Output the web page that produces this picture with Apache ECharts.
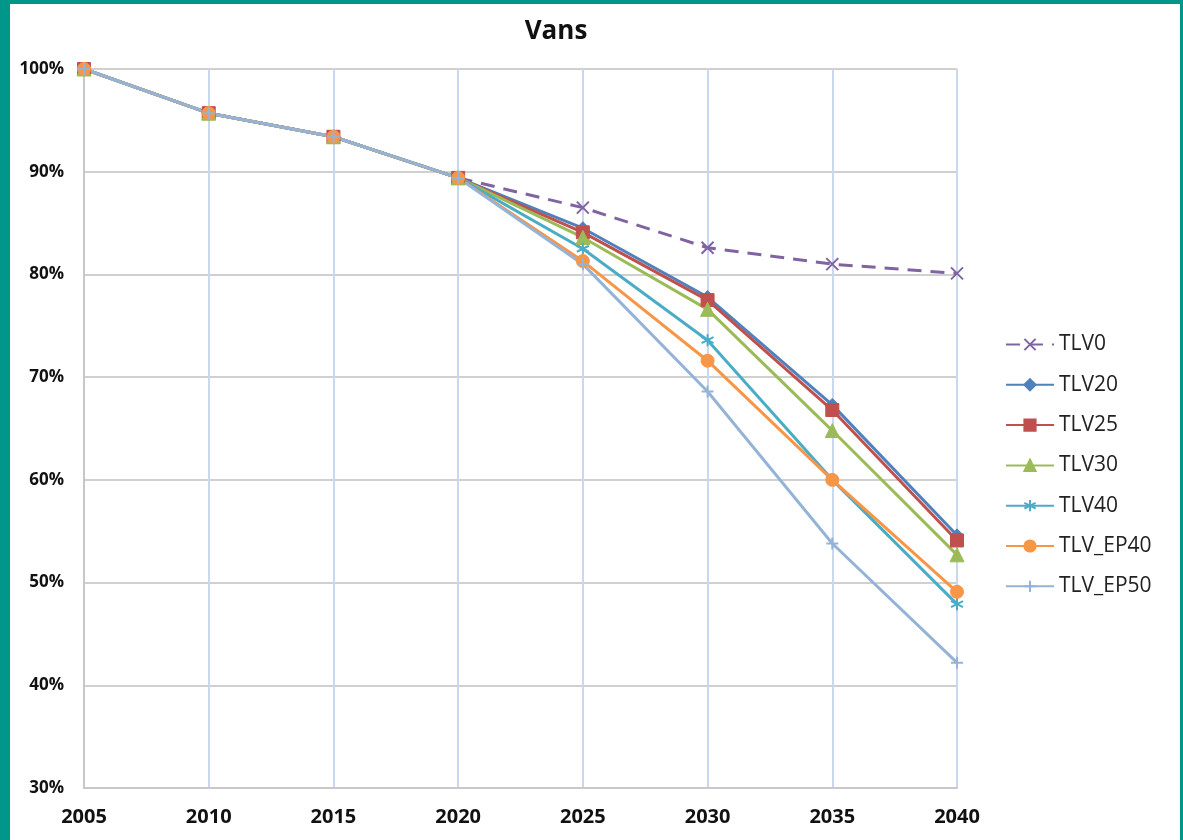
<!DOCTYPE html>
<html><head><meta charset="utf-8">
<script src="https://cdn.jsdelivr.net/npm/echarts@6/dist/echarts.min.js"></script>
<style>
html,body{margin:0;padding:0;background:#00968a;width:1183px;height:840px;overflow:hidden}
#c{position:absolute;left:10px;top:4px;width:1170px;height:836px;background:#fff}
</style></head>
<body><div id="c"></div>
<script>
const years = ['2005','2010','2015','2020','2025','2030','2035','2040'];
const TLV0     = [100, 95.7, 93.4, 89.4, 86.5, 82.6, 81.0, 80.1];
const TLV20    = [100, 95.7, 93.4, 89.4, 84.5, 77.8, 67.3, 54.6];
const TLV25    = [100, 95.7, 93.4, 89.4, 84.1, 77.5, 66.8, 54.1];
const TLV30    = [100, 95.7, 93.4, 89.4, 83.6, 76.6, 64.8, 52.7];
const TLV40    = [100, 95.7, 93.4, 89.4, 82.5, 73.6, 60.0, 47.9];
const TLV_EP40 = [100, 95.7, 93.4, 89.4, 81.3, 71.6, 60.0, 49.1];
const TLV_EP50 = [100, 95.7, 93.4, 89.4, 81.0, 68.6, 53.8, 42.2];
const yTicks = {min: 30, max: 100, step: 10};

const crossPath = 'path://M0,0L10,10M10,0L0,10';
const starPath = 'path://M5,0L5,10M0,2.5L10,7.5M10,2.5L0,7.5';
const plusPath = 'path://M5,0L5,10M0,5L10,5';

function S(name, data, color, symbol, size, extra) {
  return Object.assign({
    name, type: 'line', data, symbol, symbolSize: size,
    lineStyle: {color, width: 3},
    itemStyle: {color, borderColor: color, borderWidth: 1},
    emphasis: {disabled: true}, animation: false
  }, extra || {});
}
const purple = '#8064A2', blue = '#4F81BD', red = '#C0504D', green = '#9BBB59',
      teal = '#4BACC6', orange = '#F79646', lblue = '#95B3D7';

const series = [
  S('TLV0', TLV0, purple, crossPath, 12, {lineStyle: {color: purple, width: 3, type: [14, 9]},
    itemStyle: {color: 'none', borderColor: purple, borderWidth: 2}}),
  S('TLV20', TLV20, blue, 'diamond', 13),
  S('TLV25', TLV25, red, 'rect', 13),
  S('TLV30', TLV30, green, 'triangle', 14),
  S('TLV40', TLV40, teal, starPath, 12, {itemStyle: {color: 'none', borderColor: teal, borderWidth: 2}}),
  S('TLV_EP40', TLV_EP40, orange, 'circle', 13),
  S('TLV_EP50', TLV_EP50, lblue, plusPath, 12, {itemStyle: {color: 'none', borderColor: lblue, borderWidth: 2}})
];
const chart = echarts.init(document.getElementById('c'));
chart.setOption({
  animation: false,
  title: {text: 'Vans', left: 541, top: 10, textAlign: 'center',
    textStyle: {fontFamily: 'Open Sans', fontWeight: 'bold', fontSize: 26, color: '#111'}},
  grid: {left: 74, top: 65, right: 223, bottom: 52, containLabel: false},
  legend: {orient: 'vertical', left: 990, top: 325, itemWidth: 48, itemHeight: 14, itemGap: 19.3,
    textStyle: {fontFamily: 'Open Sans', fontSize: 21, color: '#222', lineHeight: 19.5},
    data: ['TLV0','TLV20','TLV25','TLV30','TLV40','TLV_EP40','TLV_EP50']},
  xAxis: {type: 'category', data: years, boundaryGap: false,
    axisLine: {lineStyle: {color: '#c8c8c8', width: 2}}, axisTick: {show: false},
    axisLabel: {margin: 19, fontFamily: 'Open Sans', fontWeight: 'bold', fontSize: 20, color: '#111'},
    splitLine: {show: true, lineStyle: {color: '#c9d7f0', width: 2}}},
  yAxis: {type: 'value', min: yTicks.min, max: yTicks.max, interval: yTicks.step,
    axisLine: {show: true, lineStyle: {color: '#c8c8c8', width: 2}}, axisTick: {show: false},
    axisLabel: {formatter: '{value}%', margin: 20, fontFamily: 'Open Sans', fontWeight: 'bold', fontSize: 17, color: '#111'},
    splitLine: {lineStyle: {color: '#d0d0d0', width: 2}}},
  series: series
});
</script></body></html>
